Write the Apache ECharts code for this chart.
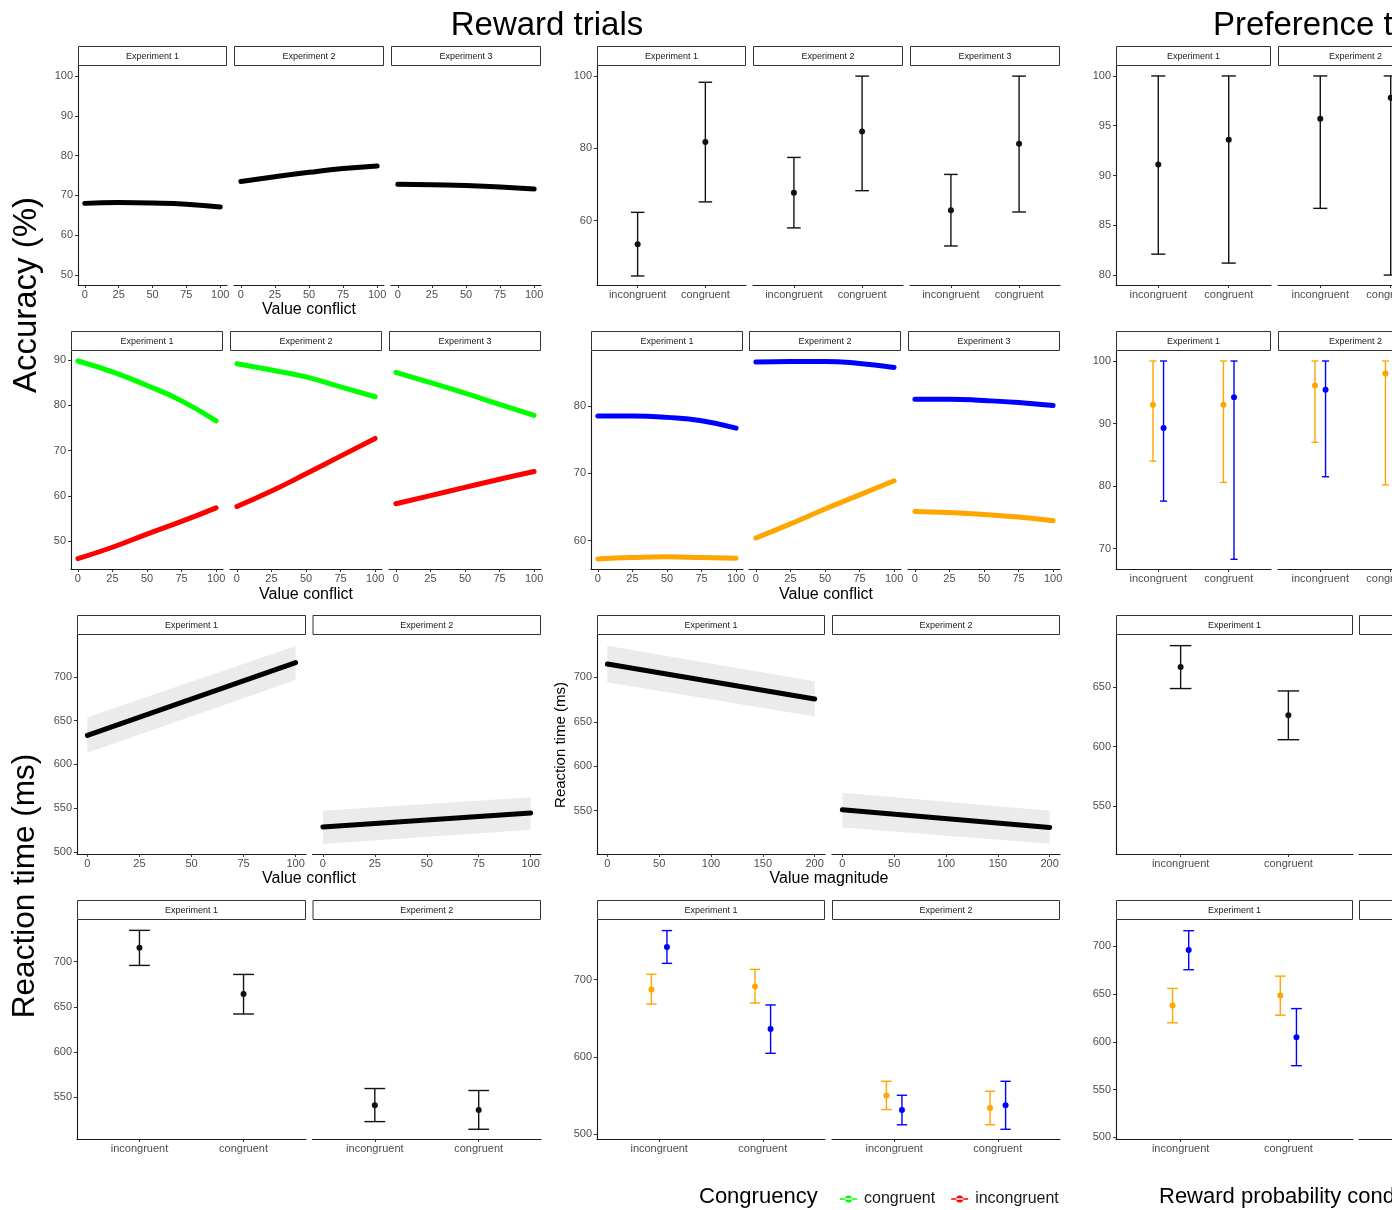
<!DOCTYPE html>
<html><head><meta charset="utf-8">
<script src="https://cdn.jsdelivr.net/npm/echarts@6/dist/echarts.min.js"></script>
<style>html,body{margin:0;padding:0;background:#fff}#c{width:1392px;height:1210px}</style>
</head><body><div id="c"></div><script>
// ================= DATA =================
const experiments = ['Experiment 1', 'Experiment 2', 'Experiment 3'];
const conditions = ['incongruent', 'congruent'];
const condX = [1, 2];
const conflictX = [0, 25, 50, 75, 100];
const conflictLineX = [0, 100];
const magnitudeX = [0, 200];
const conflictTicks = [0, 25, 50, 75, 100];
const magnitudeTicks = [0, 50, 100, 150, 200];

// y tick labels
const rewAccTicks = [50, 60, 70, 80, 90, 100];
const rewAccCongTicks = [60, 80, 100];
const prefAccTicks = [80, 85, 90, 95, 100];
const accByCongTicks = [50, 60, 70, 80, 90];
const accByCondTicks = [60, 70, 80];
const prefAccCondTicks = [70, 80, 90, 100];
const rtConflictTicks = [500, 550, 600, 650, 700];
const rtMagTicks = [550, 600, 650, 700];
const prefRtTicks = [550, 600, 650];
const rewRtTicks = [550, 600, 650, 700];
const rewRtCondTicks = [500, 600, 700];
const prefRtCondTicks = [500, 550, 600, 650, 700];

// Reward trials: accuracy vs value conflict (fit)
const rewAccConflict = [
  [68.0, 68.2, 68.1, 67.8, 67.1],
  [73.5, 74.7, 75.8, 76.75, 77.4],
  [72.8, 72.65, 72.5, 72.1, 71.6]
];
// Reward trials: accuracy by congruency
const rewAccMean = [[53.5, 81.75], [67.7, 84.7], [62.9, 81.3]];
const rewAccLow  = [[44.7, 65.2], [58.0, 68.3], [53.0, 62.4]];
const rewAccHigh = [[62.3, 98.3], [77.5, 100], [72.8, 100]];
// Preference trials: accuracy by congruency
const prefAccMean = [[91.1, 93.6], [95.7, 97.8]];
const prefAccLow  = [[82.1, 81.2], [86.7, 80.0]];
const prefAccHigh = [[100, 100], [100, 100]];

// Reward trials: accuracy vs value conflict, by congruency
const accCongruent   = [[89.8, 87.4, 84.4, 81.0, 76.6], [89.2, 87.8, 86.3, 84.1, 81.9], [87.3, 85.0, 82.7, 80.2, 77.8]];
const accIncongruent = [[46.2, 48.7, 51.6, 54.4, 57.4], [57.7, 61.1, 64.9, 68.8, 72.7], [58.3, 60.1, 61.9, 63.7, 65.4]];
// Reward trials: accuracy vs value conflict, by reward probability condition
const accBlueCond   = [[78.5, 78.5, 78.3, 77.8, 76.7], [86.5, 86.6, 86.6, 86.3, 85.7], [81.0, 81.0, 80.8, 80.5, 80.05]];
const accOrangeCond = [[57.3, 57.5, 57.6, 57.5, 57.4], [60.4, 62.5, 64.7, 66.8, 68.9], [64.35, 64.2, 63.9, 63.5, 62.95]];
// Preference trials: accuracy by congruency and condition
const prefAccOrangeMean = [[93.0, 93.0], [96.1, 98.0]];
const prefAccOrangeLow  = [[84.0, 80.6], [87.0, 80.2]];
const prefAccOrangeHigh = [[100, 100], [100, 100]];
const prefAccBlueMean = [[89.3, 94.2], [95.4, null]];
const prefAccBlueLow  = [[77.6, 68.3], [81.5, null]];
const prefAccBlueHigh = [[100, 100], [100, null]];

// Reaction time vs value conflict (fit + band)
const rtConflictFit  = [[633.1, 716.3], [528.6, 544.6]];
const rtConflictLow  = [[613.5, 696.6], [509.2, 525.5]];
const rtConflictHigh = [[654.0, 735.4], [547.2, 562.4]];
// Reaction time vs value magnitude (fit + band)
const rtMagFit  = [[715.0, 675.7], [551.1, 531.2]];
const rtMagLow  = [[694.4, 656.1], [531.2, 512.9]];
const rtMagHigh = [[735.6, 695.8], [570.3, 550.0]];
// Preference trials: RT by congruency
const prefRtMean = [[666.7, 626.3]];
const prefRtLow  = [[648.6, 605.8]];
const prefRtHigh = [[684.5, 646.6]];
// Reward trials: RT by congruency
const rewRtMean = [[715.6, 664.1], [540.7, 535.5]];
const rewRtLow  = [[695.9, 642.0], [522.6, 514.1]];
const rewRtHigh = [[734.8, 685.9], [559.3, 557.1]];
// Reward trials: RT by congruency and condition
const rewRtOrangeMean = [[687.5, 691.4], [550.1, 534.1]];
const rewRtOrangeLow  = [[668.5, 669.8], [532.0, 512.3]];
const rewRtOrangeHigh = [[707.0, 713.4], [568.6, 555.7]];
const rewRtBlueMean = [[742.4, 636.3], [531.5, 537.6]];
const rewRtBlueLow  = [[721.2, 604.8], [512.3, 506.5]];
const rewRtBlueHigh = [[763.6, 667.4], [550.5, 568.6]];
// Preference trials: RT by congruency and condition
const prefRtOrangeMean = [[638.1, 648.6]];
const prefRtOrangeLow  = [[619.9, 627.9]];
const prefRtOrangeHigh = [[655.9, 668.8]];
const prefRtBlueMean = [[696.2, 604.8]];
const prefRtBlueLow  = [[675.5, 575.0]];
const prefRtBlueHigh = [[716.4, 634.8]];

// ================= STYLE / LAYOUT =================
const FONT = '"Liberation Sans", Arial, Helvetica, sans-serif';
const GREEN = '#00FF00', RED = '#FF0000', BLUE = '#0000FF', ORANGE = '#FFA500', BLACK = '#000000';
const DODGE = 0.075;
const LEGEND_ICON = 'path://M0,2.8h17v1.4h-17z M5,3.5a3.5,3.5 0 1,0 7,0a3.5,3.5 0 1,0 -7,0z';

const option = {
  animation: false,
  backgroundColor: '#ffffff',
  grid: [], xAxis: [], yAxis: [], series: [],
  graphic: { elements: [] },
  legend: {
    show: true, left: 835, top: 1186, itemWidth: 17, itemHeight: 7, itemGap: 16,
    selectedMode: false,
    data: [ { name: 'congruent', icon: LEGEND_ICON }, { name: 'incongruent', icon: LEGEND_ICON } ],
    textStyle: { fontSize: 16, color: '#1a1a1a', fontFamily: FONT, padding: [0, 0, 0, 2] }
  }
};
const G = option.graphic.elements;
const catFmt = v => conditions[Math.round(v) - 1] || '';

function panel(p) {
  const i = option.grid.length;
  option.grid.push({ left: p.left, top: p.top, width: p.width, height: p.height, containLabel: false, outerBoundsMode: 'none' });
  const axLine = { color: '#1a1a1a', width: 1.1 };
  option.xAxis.push({
    type: 'value', gridIndex: i, min: p.x[0], max: p.x[1], position: 'bottom',
    axisLine: { show: true, onZero: false, lineStyle: axLine },
    axisTick: { show: true, length: 3, customValues: p.xt, lineStyle: { color: '#333' } },
    axisLabel: { show: true, customValues: p.xt, formatter: p.xf || (v => String(v)), color: '#4d4d4d', fontSize: 11, margin: 4, fontFamily: FONT },
    splitLine: { show: false }
  });
  option.yAxis.push({
    type: 'value', gridIndex: i, min: p.y[0], max: p.y[1], position: 'left',
    axisLine: { show: !!p.showY, onZero: false, lineStyle: axLine },
    axisTick: { show: !!p.showY, length: 3, customValues: p.yt, lineStyle: { color: '#333' } },
    axisLabel: { show: !!p.showY, customValues: p.yt, color: '#4d4d4d', fontSize: 11, margin: 5, fontFamily: FONT },
    splitLine: { show: false }
  });
  G.push({ type: 'rect', shape: { x: p.left + 0.5, y: p.top - 19.5, width: p.width - 1, height: 19 }, style: { fill: '#fff', stroke: '#333', lineWidth: 1 }, z: 10 });
  G.push({ type: 'text', x: p.left + p.width / 2, y: p.top - 9, z: 11,
    style: { text: p.strip, fill: '#1a1a1a', font: '9px ' + FONT, align: 'center', textAlign: 'center', verticalAlign: 'middle', textVerticalAlign: 'middle' } });
  return i;
}

function lineSeries(gi, xs, ys, color, name, smooth) {
  option.series.push({
    type: 'line', name: name, xAxisIndex: gi, yAxisIndex: gi, silent: true,
    data: xs.map((x, k) => [x, ys[k]]), smooth: smooth ? 0.5 : false,
    symbol: 'none', showSymbol: false, z: 3,
    lineStyle: { color: color, width: 5, cap: 'round', join: 'round' }, itemStyle: { color: color }
  });
}

function band(gi, xs, lo, hi) {
  const d = xs.map((x, k) => [x, lo[k], hi[k]]);
  option.series.push({
    type: 'custom', xAxisIndex: gi, yAxisIndex: gi, silent: true, z: 2, data: d, encode: { x: 0, y: [1, 2] },
    renderItem: (params, api) => {
      if (params.dataIndex !== 0) return null;
      const top = d.map(r => api.coord([r[0], r[2]]));
      const bot = d.map(r => api.coord([r[0], r[1]])).reverse();
      return { type: 'polygon', shape: { points: top.concat(bot) }, style: { fill: '#EBEBEB' } };
    }
  });
}

function errorBars(gi, xs, mean, lo, hi, color, capW) {
  const data = [];
  for (let k = 0; k < mean.length; k++) if (mean[k] != null) data.push([xs[k], mean[k], lo[k], hi[k]]);
  option.series.push({
    type: 'custom', xAxisIndex: gi, yAxisIndex: gi, silent: true, z: 4, data: data, encode: { x: 0, y: [1, 2, 3] },
    renderItem: (params, api) => {
      const x = api.value(0);
      const m = api.coord([x, api.value(1)]);
      const l = api.coord([x, api.value(2)]);
      const h = api.coord([x, api.value(3)]);
      const half = api.coord([x + capW / 2, api.value(1)])[0] - m[0];
      const st = { stroke: color, lineWidth: 1.4 };
      return { type: 'group', children: [
        { type: 'line', shape: { x1: m[0], y1: l[1], x2: m[0], y2: h[1] }, style: st },
        { type: 'line', shape: { x1: m[0] - half, y1: l[1], x2: m[0] + half, y2: l[1] }, style: st },
        { type: 'line', shape: { x1: m[0] - half, y1: h[1], x2: m[0] + half, y2: h[1] }, style: st },
        { type: 'circle', shape: { cx: m[0], cy: m[1], r: 3 }, style: { fill: color } }
      ] };
    }
  });
}

function text(t, x, y, size, opts) {
  opts = opts || {};
  G.push({ type: 'text', x: x, y: y, rotation: opts.rot || 0, z: 12,
    style: { text: t, fill: '#000', font: size + 'px ' + FONT, align: opts.align || 'center', textAlign: opts.align || 'center', verticalAlign: 'middle', textVerticalAlign: 'middle' } });
}

const dodgeL = condX.map(x => x - DODGE);
const dodgeR = condX.map(x => x + DODGE);

// ---------- Row 1 ----------
[[78, 149], [234, 150], [391, 150]].forEach((lw, k) => {
  const gi = panel({ left: lw[0], width: lw[1], top: 66, height: 219, strip: experiments[k], x: [-5, 105], xt: conflictTicks, y: [47.5, 102.5], yt: rewAccTicks, showY: k === 0 });
  lineSeries(gi, conflictX, rewAccConflict[k], BLACK, 'overall', true);
});
[[597, 149], [753, 150], [910, 150]].forEach((lw, k) => {
  const gi = panel({ left: lw[0], width: lw[1], top: 66, height: 219, strip: experiments[k], x: [0.4, 2.6], xt: condX, xf: catFmt, y: [42.2, 102.8], yt: rewAccCongTicks, showY: k === 0 });
  errorBars(gi, condX, rewAccMean[k], rewAccLow[k], rewAccHigh[k], '#111', 0.2);
});
[[1116, 155], [1278, 155]].forEach((lw, k) => {
  const gi = panel({ left: lw[0], width: lw[1], top: 66, height: 219, strip: experiments[k], x: [0.4, 2.6], xt: condX, xf: catFmt, y: [79, 101], yt: prefAccTicks, showY: k === 0 });
  errorBars(gi, condX, prefAccMean[k], prefAccLow[k], prefAccHigh[k], '#111', 0.2);
});

// ---------- Row 2 ----------
[[71, 152], [230, 152], [389, 152]].forEach((lw, k) => {
  const gi = panel({ left: lw[0], width: lw[1], top: 351, height: 218, strip: experiments[k], x: [-5, 105], xt: conflictTicks, y: [43.9, 92.0], yt: accByCongTicks, showY: k === 0 });
  lineSeries(gi, conflictX, accCongruent[k], GREEN, 'congruent', true);
  lineSeries(gi, conflictX, accIncongruent[k], RED, 'incongruent', true);
});
[[591, 152], [749, 152], [908, 152]].forEach((lw, k) => {
  const gi = panel({ left: lw[0], width: lw[1], top: 351, height: 218, strip: experiments[k], x: [-5, 105], xt: conflictTicks, y: [55.8, 88.15], yt: accByCondTicks, showY: k === 0 });
  lineSeries(gi, conflictX, accBlueCond[k], BLUE, 'condition B', true);
  lineSeries(gi, conflictX, accOrangeCond[k], ORANGE, 'condition A', true);
});
[[1116, 155], [1278, 155]].forEach((lw, k) => {
  const gi = panel({ left: lw[0], width: lw[1], top: 351, height: 218, strip: experiments[k], x: [0.4, 2.6], xt: condX, xf: catFmt, y: [66.75, 101.6], yt: prefAccCondTicks, showY: k === 0 });
  errorBars(gi, dodgeL, prefAccOrangeMean[k], prefAccOrangeLow[k], prefAccOrangeHigh[k], ORANGE, 0.1);
  errorBars(gi, dodgeR, prefAccBlueMean[k], prefAccBlueLow[k], prefAccBlueHigh[k], BLUE, 0.1);
});

// ---------- Row 3 ----------
[[77, 229], [312.5, 228.5]].forEach((lw, k) => {
  const gi = panel({ left: lw[0], width: lw[1], top: 635, height: 219, strip: experiments[k], x: [-5, 105], xt: conflictTicks, y: [497.7, 747.9], yt: rtConflictTicks, showY: k === 0 });
  band(gi, conflictLineX, rtConflictLow[k], rtConflictHigh[k]);
  lineSeries(gi, conflictLineX, rtConflictFit[k], BLACK, 'overall', false);
});
[[597, 228], [832, 228]].forEach((lw, k) => {
  const gi = panel({ left: lw[0], width: lw[1], top: 635, height: 219, strip: experiments[k], x: [-10, 210], xt: magnitudeTicks, y: [501.3, 747.7], yt: rtMagTicks, showY: k === 0 });
  band(gi, magnitudeX, rtMagLow[k], rtMagHigh[k]);
  lineSeries(gi, magnitudeX, rtMagFit[k], BLACK, 'overall', false);
});
[[1116, 237], [1359, 237]].forEach((lw, k) => {
  const gi = panel({ left: lw[0], width: lw[1], top: 635, height: 219, strip: experiments[k], x: [0.4, 2.6], xt: condX, xf: catFmt, y: [510.2, 693.4], yt: prefRtTicks, showY: k === 0 });
  if (prefRtMean[k]) errorBars(gi, condX, prefRtMean[k], prefRtLow[k], prefRtHigh[k], '#111', 0.2);
});

// ---------- Row 4 ----------
[[77, 229], [312.5, 228.5]].forEach((lw, k) => {
  const gi = panel({ left: lw[0], width: lw[1], top: 920, height: 219, strip: experiments[k], x: [0.4, 2.6], xt: condX, xf: catFmt, y: [503.3, 746.3], yt: rewRtTicks, showY: k === 0 });
  errorBars(gi, condX, rewRtMean[k], rewRtLow[k], rewRtHigh[k], '#111', 0.2);
});
[[597, 228], [832, 228]].forEach((lw, k) => {
  const gi = panel({ left: lw[0], width: lw[1], top: 920, height: 219, strip: experiments[k], x: [0.4, 2.6], xt: condX, xf: catFmt, y: [493.9, 777.3], yt: rewRtCondTicks, showY: k === 0 });
  errorBars(gi, dodgeL, rewRtOrangeMean[k], rewRtOrangeLow[k], rewRtOrangeHigh[k], ORANGE, 0.1);
  errorBars(gi, dodgeR, rewRtBlueMean[k], rewRtBlueLow[k], rewRtBlueHigh[k], BLUE, 0.1);
});
[[1116, 237], [1359, 237]].forEach((lw, k) => {
  const gi = panel({ left: lw[0], width: lw[1], top: 920, height: 219, strip: experiments[k], x: [0.4, 2.6], xt: condX, xf: catFmt, y: [498.2, 727.6], yt: prefRtCondTicks, showY: k === 0 });
  if (prefRtOrangeMean[k]) {
    errorBars(gi, dodgeL, prefRtOrangeMean[k], prefRtOrangeLow[k], prefRtOrangeHigh[k], ORANGE, 0.1);
    errorBars(gi, dodgeR, prefRtBlueMean[k], prefRtBlueLow[k], prefRtBlueHigh[k], BLUE, 0.1);
  }
});

// ---------- Titles & labels ----------
text('Reward trials', 547, 26, 33);
text('Preference trials', 1213, 26, 33, { align: 'left' });
text('Accuracy (%)', 27, 295, 33, { rot: Math.PI / 2 });
text('Reaction time (ms)', 25, 886, 31.5, { rot: Math.PI / 2 });
text('Reaction time (ms)', 561, 745, 15, { rot: Math.PI / 2 });
text('Value conflict', 309, 310, 16);
text('Value conflict', 306, 595, 16);
text('Value conflict', 826, 595, 16);
text('Value conflict', 309, 879, 16);
text('Value magnitude', 829, 879, 16);
text('Congruency', 699, 1197, 22, { align: 'left' });
text('Reward probability condition', 1159, 1197, 22, { align: 'left' });

const chart = echarts.init(document.getElementById('c'), null, { renderer: 'canvas' });
chart.setOption(option);
</script></body></html>
